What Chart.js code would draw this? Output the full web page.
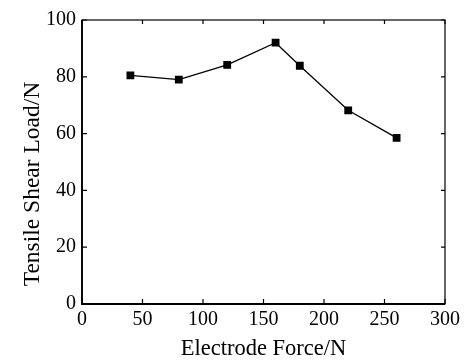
<!DOCTYPE html>
<html>
<head>
<meta charset="utf-8">
<script src="https://cdn.jsdelivr.net/npm/chart.js@4"></script>
<style>
  body { margin: 0; background: #fff; }
  #wrap { width: 466px; height: 360px; }
</style>
</head>
<body>
<div id="wrap"><canvas id="grafico"></canvas></div>
<script>
// dados
var forcaEletrodo = [40, 80, 120, 160, 180, 220, 260];
var cargaCisalhamento = [80.5, 79, 84.2, 92, 83.9, 68.2, 58.5];
var ticksX = [0, 50, 100, 150, 200, 250, 300];
var ticksY = [0, 20, 40, 60, 80, 100];

var fonte = "'Liberation Serif', 'DejaVu Serif', serif";

// desenha moldura, ticks para dentro e titulo do eixo y
const molduraPlugin = {
  id: 'moldura',
  afterDraw(chart) {
    const ctx = chart.ctx;
    const a = chart.chartArea;
    const sx = chart.scales.x;
    const sy = chart.scales.y;
    ctx.save();
    ctx.strokeStyle = '#000';
    ctx.lineWidth = 1.2;
    ctx.strokeRect(a.left, a.top, a.right - a.left, a.bottom - a.top);
    // eixos esquerdo e inferior um pouco mais grossos
    ctx.lineWidth = 1.8;
    ctx.beginPath();
    ctx.moveTo(a.left, a.top); ctx.lineTo(a.left, a.bottom); ctx.lineTo(a.right, a.bottom);
    ctx.stroke();

    ctx.lineWidth = 1.2;
    ctx.beginPath();
    ticksX.forEach(v => {
      const px = sx.getPixelForValue(v);
      ctx.moveTo(px, a.bottom); ctx.lineTo(px, a.bottom - 5);
      ctx.moveTo(px, a.top); ctx.lineTo(px, a.top + 4);
    });
    ticksY.forEach(v => {
      const py = sy.getPixelForValue(v);
      ctx.moveTo(a.left, py); ctx.lineTo(a.left + 5, py);
      ctx.moveTo(a.right, py); ctx.lineTo(a.right - 4, py);
    });
    ctx.stroke();

    // titulo eixo y
    ctx.fillStyle = '#000';
    ctx.font = '23.5px ' + fonte;
    ctx.textAlign = 'center';
    ctx.textBaseline = 'alphabetic';
    ctx.translate(38.5, 184);
    ctx.rotate(-Math.PI / 2);
    ctx.fillText('Tensile Shear Load/N', 0, 0);
    ctx.restore();
  }
};

const ctx = document.getElementById('grafico');

new Chart(ctx, {
  type: 'scatter',
  data: {
    datasets: [
      {
        label: 'Tensile Shear Load',
        data: forcaEletrodo.map((x, i) => ({ x: x, y: cargaCisalhamento[i] })),
        showLine: true,
        borderColor: '#000',
        borderWidth: 1.3,
        backgroundColor: '#000',
        pointStyle: 'rect',
        pointRadius: 4.6,
        pointHoverRadius: 4.6,
        tension: 0,
      },
    ],
  },
  options: {
    responsive: true,
    maintainAspectRatio: false,
    animation: false,
    layout: { padding: { top: 20, right: 21, left: 0, bottom: 0 } },
    plugins: {
      legend: { display: false },
      tooltip: { enabled: false },
    },
    scales: {
      x: {
        type: 'linear',
        min: 0,
        max: 300,
        afterBuildTicks: (scale) => { scale.ticks = ticksX.map(v => ({ value: v })); },
        afterFit: (scale) => { scale.height = 56; },
        grid: { display: false, drawTicks: false },
        border: { display: false },
        ticks: {
          color: '#000',
          padding: 4,
          font: { family: fonte, size: 20 },
        },
        title: {
          display: true,
          text: 'Electrode Force/N',
          color: '#000',
          padding: { top: 0, bottom: -3 },
          font: { family: fonte, size: 22.5 },
        },
      },
      y: {
        type: 'linear',
        min: 0,
        max: 100,
        afterBuildTicks: (scale) => { scale.ticks = ticksY.map(v => ({ value: v })); },
        afterFit: (scale) => { scale.width = 82; },
        grid: { display: false, drawTicks: false },
        border: { display: false },
        ticks: {
          color: '#000',
          padding: 6,
          font: { family: fonte, size: 20 },
        },
      },
    },
  },
  plugins: [molduraPlugin],
});
</script>
</body>
</html>
